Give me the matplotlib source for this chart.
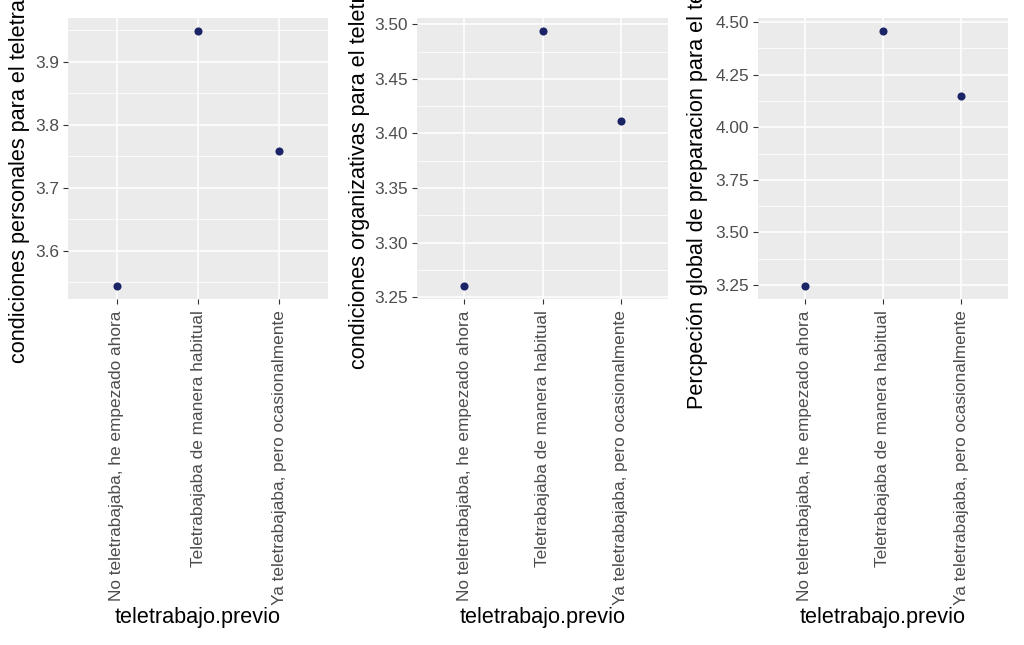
import matplotlib
matplotlib.use('Agg')
import matplotlib.pyplot as plt
import numpy as np

plt.rcParams['font.family'] = ['Liberation Sans', 'DejaVu Sans']

categories = ['No teletrabajaba, he empezado ahora',
              'Teletrabajaba de manera habitual',
              'Ya teletrabajaba, pero ocasionalmente']

personales = [3.544, 3.949, 3.759]
organizativas = [3.260, 3.494, 3.411]
global_prep = [3.244, 4.459, 4.150]

ylabels = ['condiciones personales para el teletrabajo',
           'condiciones organizativas para el teletrabajo',
           'Percpeción global de preparacion para el teletrabajo']

major_breaks = [np.arange(3.6, 3.91, 0.1),
                np.arange(3.25, 3.51, 0.05),
                np.arange(3.25, 4.51, 0.25)]
tick_fmt = ['%.1f', '%.2f', '%.2f']

W, H = 1024, 645
# panel boxes in pixels: left, right, top, bottom
boxes = [(68, 328, 18, 299), (417, 668, 18, 299), (758, 1008, 18, 299)]
ylab_x = [20, 359, 698]
ylab_bottom = [363, 369, 409]

point_color = '#1a2466'

fig = plt.figure(figsize=(W / 100, H / 100), dpi=100)

series = [personales, organizativas, global_prep]
for i, vals in enumerate(series):
    l, r, t, b = boxes[i]
    ax = fig.add_axes([l / W, 1 - b / H, (r - l) / W, (b - t) / H])
    ax.set_facecolor('#EBEBEB')
    for s in ax.spines.values():
        s.set_visible(False)

    x = np.arange(1, len(categories) + 1)
    lo, hi = min(vals), max(vals)
    pad = (hi - lo) * 0.05
    ax.set_ylim(lo - pad, hi + pad)
    ax.set_xlim(0.4, len(categories) + 0.6)

    mb = major_breaks[i]
    step = mb[1] - mb[0]
    minor = np.arange(mb[0] - step / 2, mb[-1] + step, step)
    minor = minor[(minor > lo - pad) & (minor < hi + pad)]
    ax.set_yticks(mb)
    ax.set_yticks(minor, minor=True)
    ax.set_yticklabels([tick_fmt[i] % v for v in mb])
    ax.set_xticks(x)
    ax.set_xticklabels(categories, rotation=90, ha='center', va='top')

    ax.grid(which='major', color='white', linewidth=1.1)
    ax.grid(which='minor', axis='y', color='white', linewidth=0.55)
    ax.set_axisbelow(True)
    ax.tick_params(which='major', length=3.6, width=0.8, color='#333333',
                   labelcolor='#4D4D4D', labelsize=12.4, pad=3)
    ax.tick_params(axis='x', which='major', pad=4.5)
    ax.tick_params(which='minor', length=0)

    ax.scatter(x, vals, s=34, color=point_color, zorder=3, linewidths=0)

    fig.text((l + r) / 2 / W, 1 - 618 / H, 'teletrabajo.previo',
             ha='center', va='center', fontsize=15.6, color='black')
    fig.text(ylab_x[i] / W, 1 - ylab_bottom[i] / H, ylabels[i], rotation=90,
             ha='center', va='bottom', fontsize=15.6, color='black')

fig.savefig('out.png', dpi=100, facecolor='white')
